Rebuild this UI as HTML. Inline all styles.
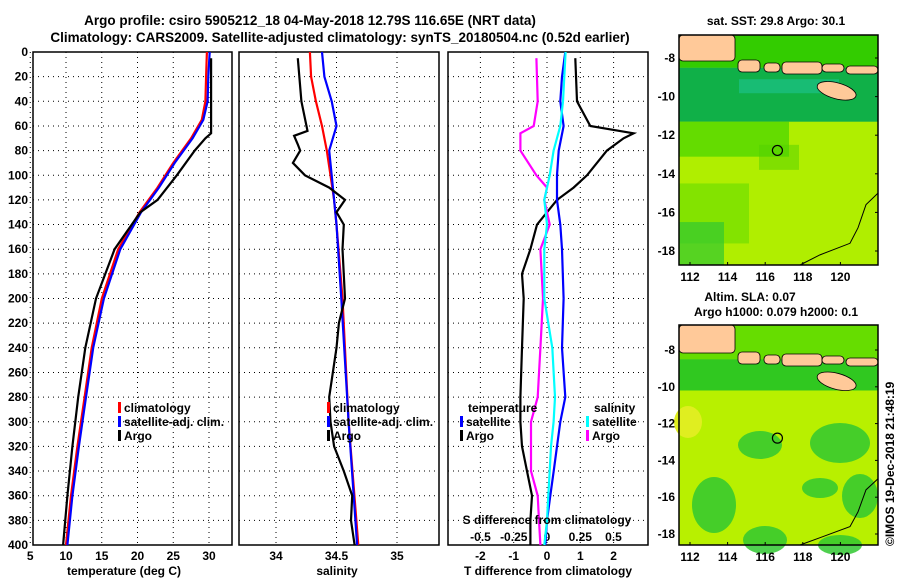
<!DOCTYPE html>
<html><head><meta charset="utf-8">
<style>
body{margin:0;background:#fff;}
svg{display:block;font-family:"Liberation Sans",sans-serif;font-weight:bold;}
text{font-size:12px;fill:#000;}
.t{font-size:13.5px;}
</style></head>
<body>
<svg id="c" width="900" height="580" viewBox="0 0 900 580">
<text class="t" x="310" y="25" text-anchor="middle">Argo profile: csiro 5905212_18 04-May-2018 12.79S 116.65E (NRT data)</text>
<text class="t" x="340" y="42" text-anchor="middle">Climatology: CARS2009. Satellite-adjusted climatology: synTS_20180504.nc (0.52d earlier)</text>
<g id="plots"></g>
<text x="124" y="575" text-anchor="middle">temperature (deg C)</text>
<text x="337" y="575" text-anchor="middle">salinity</text>
<text x="548" y="575" text-anchor="middle">T difference from climatology</text>
<text x="547" y="524" text-anchor="middle">S difference from climatology</text>
<text x="776" y="25" text-anchor="middle">sat. SST: 29.8 Argo: 30.1</text>
<text x="750" y="301" text-anchor="middle">Altim. SLA: 0.07</text>
<text x="776" y="316" text-anchor="middle">Argo h1000: 0.079 h2000: 0.1</text>
<text transform="translate(894,546) rotate(-90)">©IMOS 19-Dec-2018 21:48:19</text>
</svg>
<script>
const depthTicks=[0,20,40,60,80,100,120,140,160,180,200,220,240,260,280,300,320,340,360,380,400];
const tempTicks=[5,10,15,20,25,30];
const salTicks=[34,34.5,35];
const tdTicks=[-2,-1,0,1,2];
const sdTicks=["-0.5","-0.25","0","0.25","0.5"];
const tDepth=[0,20,40,55,70,90,110,130,160,200,240,280,320,360,400];
const tClim=[29.7,29.6,29.5,29.0,27.5,25.0,22.8,20.3,17.3,15.0,13.6,12.6,11.6,10.7,10.0];
const tSat=[30.1,29.9,29.8,29.2,27.7,25.2,23.0,20.5,17.6,15.3,13.8,12.8,11.8,10.9,10.2];
const aDepth=[5,66,70,80,100,120,130,160,200,240,280,320,360,400];
const tArgo=[30.3,30.3,29.5,28.0,25.5,22.8,20.4,16.8,14.2,12.7,11.7,10.9,10.2,9.6];
const sDepth=[0,20,40,60,80,100,120,140,200,300,400];
const sClim=[34.28,34.29,34.33,34.38,34.42,34.45,34.48,34.5,34.55,34.6,34.68];
const sSat=[34.38,34.4,34.46,34.5,34.44,34.46,34.48,34.5,34.54,34.6,34.67];
const saDepth=[5,40,64,68,75,80,90,100,110,120,130,140,160,200,220,240,280,300,320,340,360,380,400];
const sArgo=[34.18,34.21,34.26,34.15,34.18,34.2,34.14,34.24,34.44,34.57,34.5,34.56,34.55,34.57,34.52,34.5,34.44,34.45,34.48,34.56,34.63,34.62,34.65];
const dDepth=[0,20,40,60,80,100,120,140,160,200,240,280,300,320,340,360,380,400];
const dTSat=[0.55,0.45,0.4,0.5,0.35,0.3,0.3,0.4,0.45,0.5,0.45,0.55,0.4,0.3,0.2,0.1,0.0,-0.05];
const dSSat=[0.14,0.13,0.12,0.1,0.05,0.02,-0.02,0,-0.02,-0.02,0.04,0.06,0.05,0.03,0.02,0.01,0,-0.02];
const daDepth=[5,40,60,66,70,80,100,110,120,140,160,180,200,240,280,300,320,340,360,380,400];
const dTArgo=[0.85,0.9,1.3,2.6,2.3,1.8,1.2,0.8,0.3,-0.3,-0.5,-0.75,-0.7,-0.75,-0.8,-0.8,-0.75,-0.6,-0.45,-0.5,-0.5];
const dSArgo=[-0.08,-0.07,-0.1,-0.2,-0.2,-0.2,-0.08,0.0,-0.02,0.02,-0.05,-0.04,-0.03,-0.05,-0.07,-0.12,-0.12,-0.12,-0.07,-0.06,-0.05];
const lonTicks=[112,114,116,118,120];
const latTicks=[-8,-10,-12,-14,-16,-18];

const NS='http://www.w3.org/2000/svg';
const G=document.getElementById('plots');
function mk(tag,attrs,parent){const e=document.createElementNS(NS,tag);for(const k in attrs)e.setAttribute(k,attrs[k]);(parent||G).appendChild(e);return e;}
const Y0=52,Y1=545;
const yD=d=>Y0+d*(Y1-Y0)/400;
const xT=t=>66+(t-10)*7.15;
const xS=s=>276+(s-34)*121;
const xTD=v=>547+v*33.3;
const xSD=v=>547+v*133;
const panels=[{x0:33,x1:232,name:'temperature-panel'},{x0:239,x1:439,name:'salinity-panel'},{x0:448,x1:648,name:'difference-panel'}];
function grid(p,xs){
  xs.forEach(x=>{const l=mk('line',{x1:x,x2:x,y1:Y0,y2:Y1,stroke:'#000','stroke-dasharray':'1 4'});
  });
  depthTicks.forEach(d=>{const l=mk('line',{x1:p.x0,x2:p.x1,y1:yD(d),y2:yD(d),stroke:'#000','stroke-dasharray':'1 4'});
  });
  const r=mk('rect',{x:p.x0,y:Y0,width:p.x1-p.x0,height:Y1-Y0,fill:'none',stroke:'#000','stroke-width':1.5});
  
}
grid(panels[0],tempTicks.map(xT));
grid(panels[1],salTicks.map(xS));
grid(panels[2],tdTicks.map(xTD));
depthTicks.forEach(d=>{const t=mk('text',{x:28,y:yD(d)+4,'text-anchor':'end'});t.textContent=d;
});
function xlab(vals,f,y,lbl){vals.forEach(v=>{const t=mk('text',{x:f(+v),y:y,'text-anchor':'middle'});t.textContent=v;
});}
xlab(tempTicks,xT,560,'temperature-tick-label');
xlab(salTicks,xS,560,'salinity-tick-label');
xlab(tdTicks,xTD,560,'t-difference-tick-label');
xlab(sdTicks,xSD,541,'s-difference-tick-label');
function line(ds,vs,f,col,name,x0,x1){
  const pts=ds.map((d,i)=>Math.max(x0,Math.min(x1,f(vs[i]))).toFixed(1)+','+yD(d).toFixed(1)).join(' ');
  const p=mk('polyline',{points:pts,fill:'none',stroke:col,'stroke-width':2.2});
  
}
line(tDepth,tClim,xT,'#f00','temperature-climatology-line',33,232);
line(tDepth,tSat,xT,'#00f','temperature-satellite-line',33,232);
line(aDepth,tArgo,xT,'#000','temperature-argo-line',33,232);
line(sDepth,sClim,xS,'#f00','salinity-climatology-line',239,439);
line(sDepth,sSat,xS,'#00f','salinity-satellite-line',239,439);
line(saDepth,sArgo,xS,'#000','salinity-argo-line',239,439);
line(daDepth,dTArgo,xTD,'#000','t-diff-argo-line',448,648);
line(dDepth,dTSat,xTD,'#00f','t-diff-satellite-line',448,648);
line(daDepth,dSArgo,xSD,'#f0f','s-diff-argo-line',448,648);
line(dDepth,dSSat,xSD,'#0ff','s-diff-satellite-line',448,648);
function leg(x,y,col,txt,name){
  if(col){const r=mk('rect',{x:x,y:y-10,width:3,height:11,fill:col});}
  const t=mk('text',{x:x+6,y:y});t.textContent=txt;
}
leg(118,412,'#f00','climatology','legend-climatology');
leg(118,426,'#00f','satellite-adj. clim.','legend-satellite');
leg(118,440,'#000','Argo','legend-argo');
leg(327,412,'#f00','climatology','legend-climatology-2');
leg(327,426,'#00f','satellite-adj. clim.','legend-satellite-2');
leg(327,440,'#000','Argo','legend-argo-2');
leg(462,412,null,'temperature','legend-temperature-heading');
leg(460,426,'#00f','satellite','legend-t-satellite');
leg(460,440,'#000','Argo','legend-t-argo');
leg(588,412,null,'salinity','legend-salinity-heading');
leg(586,426,'#0ff','satellite','legend-s-satellite');
leg(586,440,'#f0f','Argo','legend-s-argo');

function map(y0,y1,kind,name){
  const x0=679,x1=878;
  const g=mk('g',{});
  const lonX=l=>690+(l-112)*18.8;
  const latY=kind?(la=>350+(-8-la)*18.4):(la=>58+(-8-la)*19.3);
  mk('rect',{x:x0,y:y0,width:x1-x0,height:y1-y0,fill:kind?'#b8f000':'#b0ee00'},g);
  if(!kind){
    mk('rect',{x:x0,y:y0,width:x1-x0,height:latY(-8.5)-y0,fill:'#33cc00'},g);
    mk('rect',{x:x0,y:latY(-8.5),width:x1-x0,height:latY(-11.3)-latY(-8.5),fill:'#10b048'},g);
    mk('rect',{x:x0+60,y:latY(-9.1),width:100,height:14,fill:'#20c8a0',opacity:0.5},g);
    mk('rect',{x:x0,y:latY(-11.3),width:110,height:35,fill:'#44d400',opacity:0.7},g);
    mk('rect',{x:x0,y:latY(-14.5),width:70,height:60,fill:'#66dc00',opacity:0.6},g);
    mk('rect',{x:x0,y:latY(-16.5),width:45,height:y1-latY(-16.5),fill:'#30c830',opacity:0.7},g);
    mk('rect',{x:x0+80,y:latY(-12.5),width:40,height:25,fill:'#50d000',opacity:0.5},g);
  } else {
    mk('rect',{x:x0,y:y0,width:x1-x0,height:latY(-8.5)-y0,fill:'#66dd00'},g);
    mk('rect',{x:x0,y:latY(-8.5),width:x1-x0,height:latY(-10.2)-latY(-8.5),fill:'#30c820'},g);
    [[714,505,22,28],[860,496,18,22],[760,445,22,14],[765,540,22,14],[840,545,22,10],[840,443,30,20],[820,488,18,10]].forEach(b=>mk('ellipse',{cx:b[0],cy:b[1],rx:b[2],ry:b[3],fill:'#30c830',opacity:0.85},g));
    mk('ellipse',{cx:688,cy:422,rx:14,ry:16,fill:'#e0ee20'},g);
  }
  const ly=latY(-8);
  [[679,y0,56,ly+3-y0],[738,ly+2,22,12],[764,ly+5,16,9],[782,ly+4,40,12],[822,ly+6,22,8],[846,ly+8,32,8]].forEach(r=>mk('rect',{x:r[0],y:r[1],width:r[2],height:r[3],fill:'#ffc999',stroke:'#000','stroke-width':0.8,rx:4},g));
  mk('ellipse',{cx:lonX(119.8),cy:latY(-9.7),rx:20,ry:8,fill:'#ffc999',stroke:'#000','stroke-width':0.8,transform:`rotate(15 ${lonX(119.8)} ${latY(-9.7)})`},g);
  mk('polyline',{points:`878,${latY(-15)} 866,${latY(-15.6)} 858,${latY(-16.8)} 850,${latY(-17.6)} 820,${latY(-18.2)} 800,${y1}`,fill:'none',stroke:'#000','stroke-width':1},g);
  mk('circle',{cx:lonX(116.65),cy:latY(-12.79),r:5,fill:'none',stroke:'#000','stroke-width':1.2},g);
  mk('rect',{x:x0,y:y0,width:x1-x0,height:y1-y0,fill:'none',stroke:'#000','stroke-width':1.5},g);
  lonTicks.forEach(l=>{const t=mk('text',{x:lonX(l),y:y1+16,'text-anchor':'middle'},g);t.textContent=l;
    
    mk('line',{x1:lonX(l),x2:lonX(l),y1:y1,y2:y1-3,stroke:'#000'},g);});
  latTicks.forEach(l=>{const t=mk('text',{x:675,y:latY(l)+4,'text-anchor':'end'},g);t.textContent=l;
    
    mk('line',{x1:x1,x2:x1-3,y1:latY(l),y2:latY(l),stroke:'#000'},g);});
}
map(35,265,0,'sst-map');
map(325,545,1,'sla-map');
</script>
</body></html>
